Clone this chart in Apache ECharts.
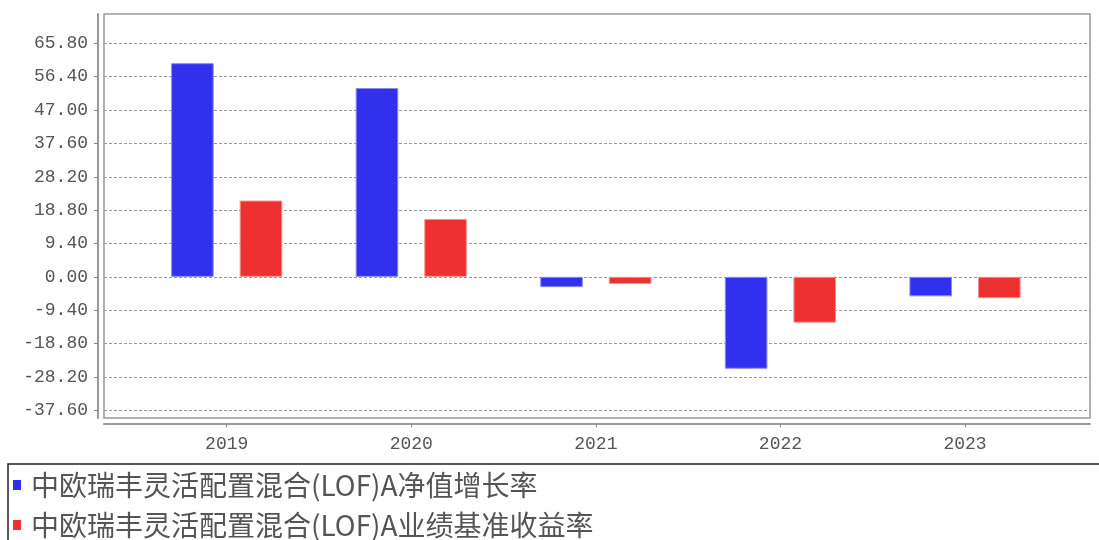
<!DOCTYPE html>
<html>
<head>
<meta charset="utf-8">
<script src="https://cdn.jsdelivr.net/npm/echarts@6/dist/echarts.min.js"></script>
<style>html,body{margin:0;padding:0;background:#fff;}#c{width:1099px;height:540px;}</style>
</head>
<body>
<div id="c"></div>
<script>
const categories = ['2019', '2020', '2021', '2022', '2023'];
const seriesNames = ['中欧瑞丰灵活配置混合(LOF)A净值增长率', '中欧瑞丰灵活配置混合(LOF)A业绩基准收益率'];
const navGrowth = [60.2, 53.2, -2.9, -25.9, -5.5];
const benchmark = [21.5, 16.3, -2.0, -12.9, -6.0];
const yTicks = [-37.6, -28.2, -18.8, -9.4, 0, 9.4, 18.8, 28.2, 37.6, 47.0, 56.4, 65.8];

const yMin = yTicks[0];
const yMax = yTicks[yTicks.length - 1];
const yStep = Math.round((yTicks[1] - yTicks[0]) * 100) / 100;

const labelFont = { fontFamily: 'Liberation Mono', fontSize: 18, color: '#555' };
const gridTop = 43.3, gridBottom = 129.7;

const chart = echarts.init(document.getElementById('c'));
chart.setOption({
  backgroundColor: '#fff',
  animation: false,
  graphic: [{
    type: 'rect', shape: { x: 8, y: 464, width: 1100, height: 100 },
    style: { fill: 'none', stroke: '#222', lineWidth: 1.5 }, silent: true
  }],
  legend: {
    orient: 'vertical', left: 13, top: 470, padding: 0,
    itemWidth: 8, itemHeight: 10, itemGap: 10, icon: 'rect',
    itemStyle: { borderWidth: 0 },
    textStyle: { fontFamily: 'Noto Sans CJK SC', fontSize: 28, lineHeight: 30, color: '#555', padding: [0, 0, 0, 5] },
    data: seriesNames
  },
  grid: [
    { left: 104, right: 9, top: 14, bottom: 122, show: true, borderColor: '#999', borderWidth: 1.5, backgroundColor: 'transparent' },
    { left: 104, right: 9, top: gridTop, bottom: gridBottom },
    { left: 134.4, right: 41.7, top: gridTop, bottom: gridBottom }
  ],
  xAxis: [
    { gridIndex: 0, type: 'value', min: 0, max: 1, offset: 5.5, position: 'bottom',
      axisLine: { show: true, onZero: false, lineStyle: { color: '#999', width: 2 } },
      axisTick: { show: false }, axisLabel: { show: false }, splitLine: { show: false } },
    { gridIndex: 1, type: 'value', min: 0, max: 1, show: false },
    { gridIndex: 2, type: 'category', data: categories, offset: 13, position: 'bottom',
      axisLine: { show: false, onZero: false },
      axisTick: { show: true, alignWithLabel: true, length: 4, lineStyle: { color: '#888' } },
      axisLabel: Object.assign({ margin: 12 }, labelFont),
      splitLine: { show: false } }
  ],
  yAxis: [
    { gridIndex: 0, type: 'value', min: 0, max: 1, offset: 6, position: 'left',
      axisLine: { show: true, onZero: false, lineStyle: { color: '#999', width: 2 } },
      axisTick: { show: false }, axisLabel: { show: false }, splitLine: { show: false } },
    { gridIndex: 1, type: 'value', min: yMin, max: yMax, interval: yStep, offset: 6, position: 'left',
      axisLine: { show: false, onZero: false },
      axisTick: { show: true, length: 4, lineStyle: { color: '#888' } },
      axisLabel: Object.assign({ margin: 10, formatter: v => v.toFixed(2) }, labelFont),
      splitLine: { show: true, lineStyle: { color: '#999', width: 1, type: [3, 2] } } },
    { gridIndex: 2, type: 'value', min: yMin, max: yMax, interval: yStep, show: false }
  ],
  series: [
    { name: seriesNames[0], type: 'bar', xAxisIndex: 2, yAxisIndex: 2, data: navGrowth,
      barWidth: 42.6, barGap: '61%',
      itemStyle: { color: '#3030EE', borderColor: '#8a8af5', borderWidth: 1 } },
    { name: seriesNames[1], type: 'bar', xAxisIndex: 2, yAxisIndex: 2, data: benchmark,
      barWidth: 42.6, barGap: '61%',
      itemStyle: { color: '#EE3030', borderColor: '#f59090', borderWidth: 1 } }
  ]
});
</script>
</body>
</html>
